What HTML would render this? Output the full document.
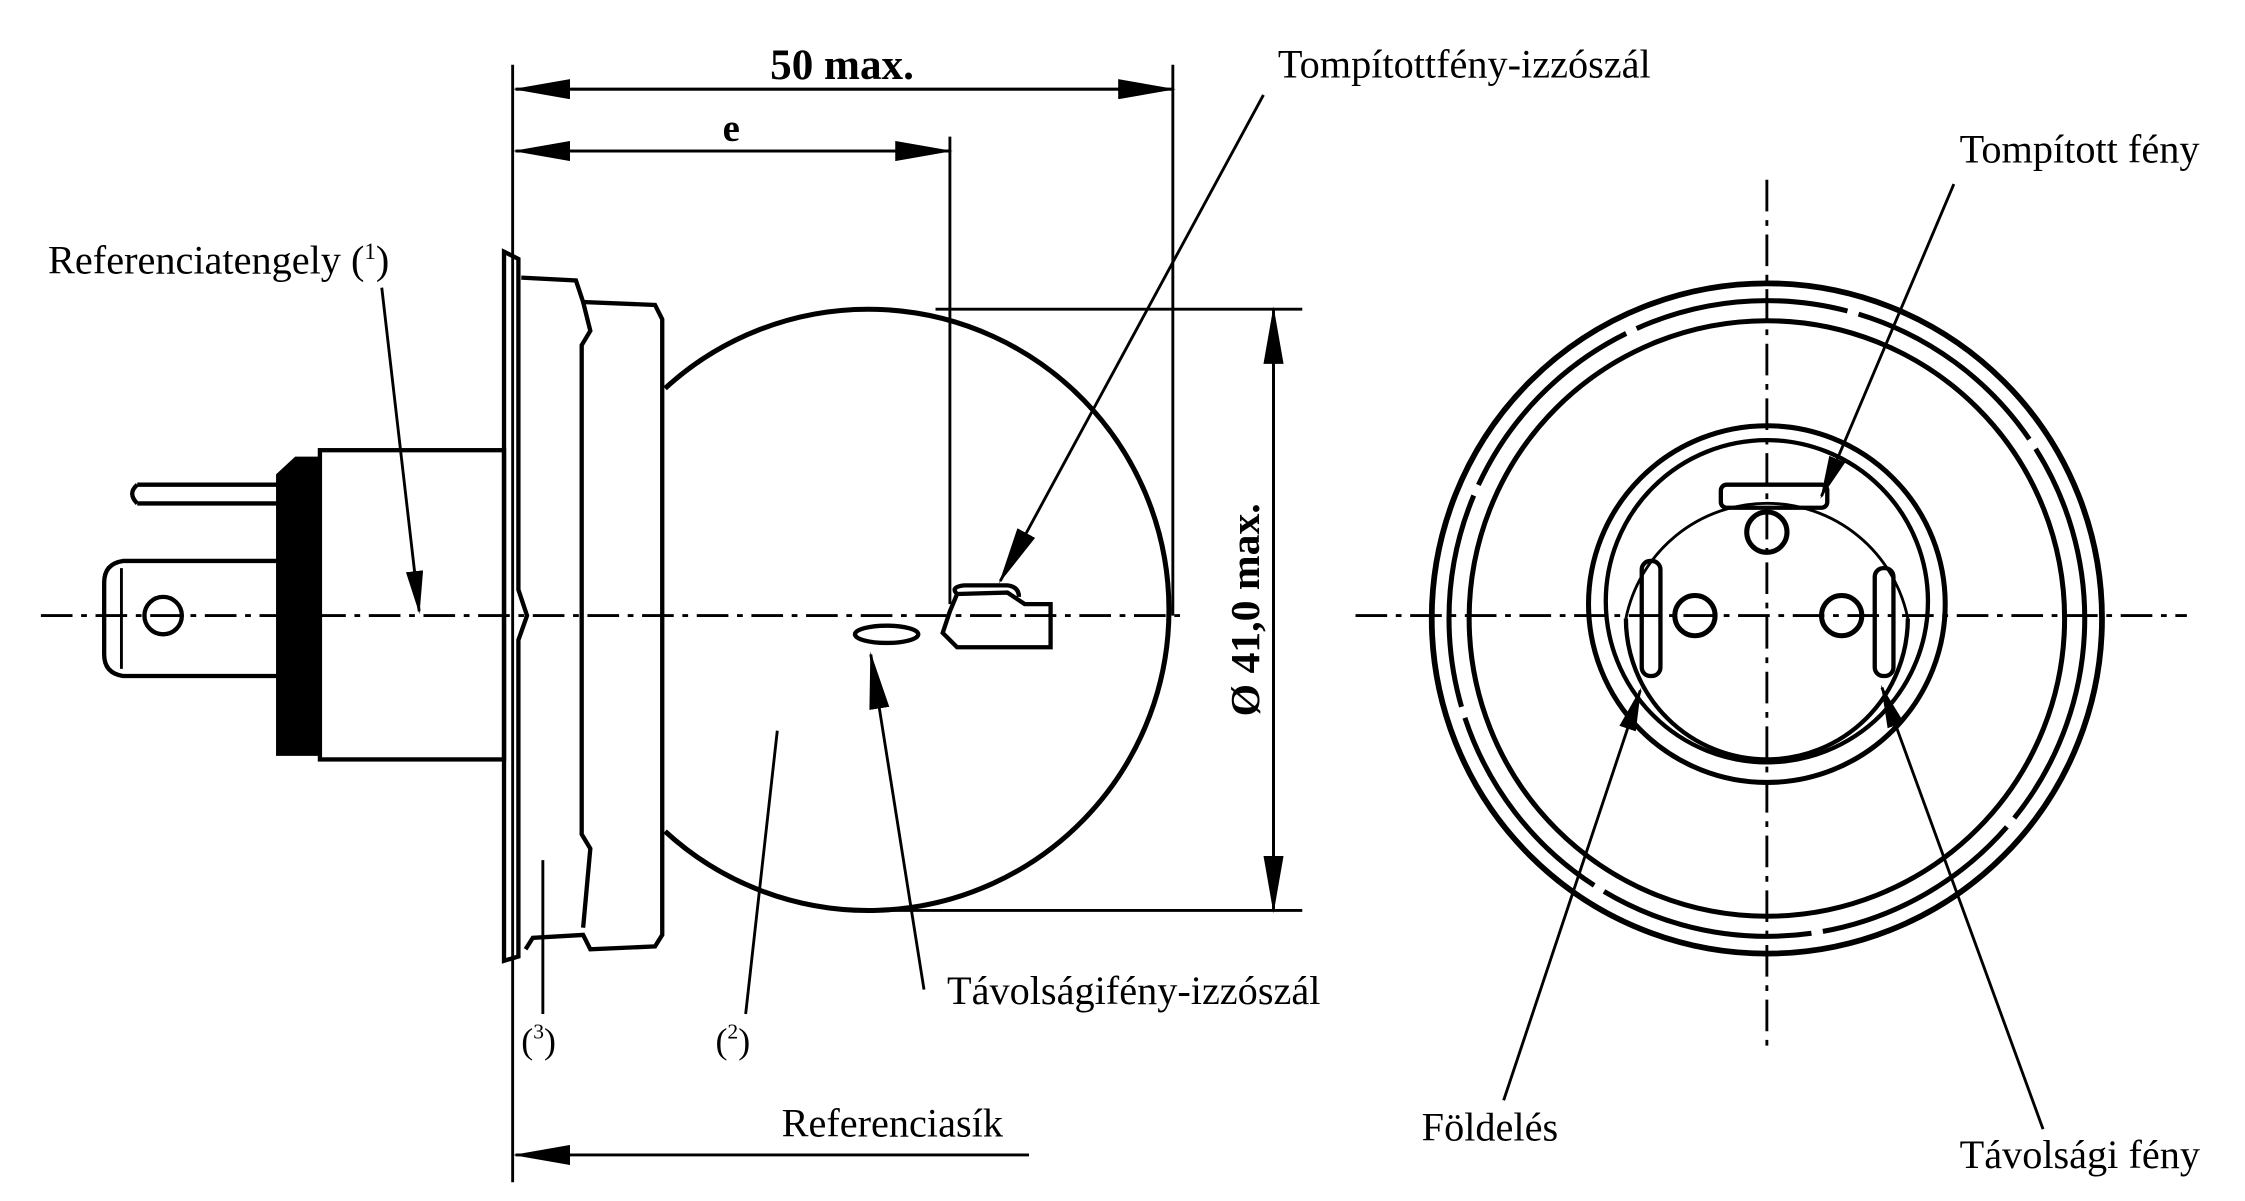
<!DOCTYPE html>
<html><head><meta charset="utf-8"><style>
html,body{margin:0;padding:0;background:#fff;}
svg{display:block;}
text{font-family:"Liberation Serif",serif;fill:#000;}
</style></head><body>
<svg width="2245" height="1201" viewBox="0 0 1560 835" xmlns="http://www.w3.org/2000/svg">
<defs>
<marker id="ar" markerWidth="40" markerHeight="14" refX="38" refY="7" orient="auto" markerUnits="userSpaceOnUse">
<path d="M0,0 L40,7 L0,14 Z" fill="#000"/></marker>
<marker id="ar2" markerWidth="30" markerHeight="12" refX="28" refY="6" orient="auto" markerUnits="userSpaceOnUse">
<path d="M0,0 L30,6 L0,12 Z" fill="#000"/></marker>
</defs>
<g stroke="#000" fill="none">
<line x1="28" y1="428" x2="820" y2="428" stroke-width="2" stroke-dasharray="22,6,4,6"/>
<line x1="942" y1="428" x2="1520" y2="428" stroke-width="2" stroke-dasharray="22,6,4,6"/>
<line x1="1228" y1="125" x2="1228" y2="732" stroke-width="2" stroke-dasharray="22,6,4,6"/>

<line x1="356" y1="45" x2="356" y2="822" stroke-width="2"/>
<line x1="815" y1="45" x2="815" y2="428" stroke-width="2"/>
<line x1="660" y1="95" x2="660" y2="420" stroke-width="2"/>
<line x1="358" y1="62" x2="815" y2="62" stroke-width="2" marker-end="url(#ar)"/>
<line x1="815" y1="62" x2="358" y2="62" stroke-width="2" marker-end="url(#ar)"/>
<line x1="358" y1="105" x2="660" y2="105" stroke-width="2" marker-end="url(#ar)"/>
<line x1="660" y1="105" x2="358" y2="105" stroke-width="2" marker-end="url(#ar)"/>
<line x1="650" y1="215" x2="905" y2="215" stroke-width="2"/>
<line x1="620" y1="633" x2="905" y2="633" stroke-width="2"/>
<line x1="885" y1="215" x2="885" y2="633" stroke-width="2" marker-end="url(#ar)"/>
<line x1="885" y1="633" x2="885" y2="215" stroke-width="2" marker-end="url(#ar)"/>
<line x1="715" y1="803" x2="358" y2="803" stroke-width="2" marker-end="url(#ar)"/>

<path d="M462,270 A209,209 0 1,1 462,578" stroke-width="3.5"/>
<path d="M350,175 L360,180 L360,410 L366,428 L360,445 L360,665 L350,668 Z" stroke-width="3"/>
<path d="M362,193 L400,195 L405,210 L455,212 L460,222 L460,650 L455,658 L410,660 L405,650 L370,652 L365,660" stroke-width="3"/>
<path d="M405,210 L410,230 L404,240 L404,580 L410,590 L405,645" stroke-width="3"/>
<rect x="222" y="313" width="128" height="215" stroke-width="3"/>
<path d="M192,330 L205,318 L222,318 L222,525 L192,525 Z" fill="#000"/>
<path d="M95,337 L192,337 M95,350 L192,350 M95,337 Q88,343 95,350" stroke-width="3"/>
<path d="M192,390 L85,390 Q72,392 72,405 L72,455 Q72,468 85,470 L192,470" stroke-width="3"/>
<line x1="84" y1="395" x2="84" y2="465" stroke-width="2"/>
<circle cx="113" cy="428" r="13" stroke-width="3"/>
<path d="M665,413 L700,412 L712,420 L730,420 L730,450 L665,450 L655,440 L660,425 Z" stroke-width="3"/>
<path d="M665,413 Q660,408 670,407 L700,407 Q708,408 708,415" stroke-width="3"/>
<ellipse cx="616" cy="441" rx="22" ry="6" stroke-width="3"/>

<line x1="265" y1="200" x2="291" y2="425" stroke-width="2" marker-end="url(#ar2)"/>
<line x1="878" y1="66" x2="695" y2="404" stroke-width="2" marker-end="url(#ar)"/>
<line x1="642" y1="688" x2="605" y2="455" stroke-width="2" marker-end="url(#ar)"/>
<line x1="518" y1="705" x2="540" y2="508" stroke-width="2"/>
<line x1="377" y1="705" x2="377" y2="598" stroke-width="2"/>

<circle cx="1228" cy="430" r="233" stroke-width="4"/>
<circle cx="1228" cy="430" r="221" stroke-width="3.5" stroke-dasharray="150,8"/>
<circle cx="1228" cy="430" r="207" stroke-width="3.5"/>
<circle cx="1228" cy="420" r="124" stroke-width="3.5"/>
<circle cx="1228" cy="418" r="112" stroke-width="3"/>
<path d="M1130,430 A98,98 0 0,0 1326,430" stroke-width="3"/>
<path d="M1130,430 A100,100 0 0,1 1326,430" stroke-width="2"/>
<circle cx="1228" cy="370" r="14" stroke-width="3.5"/>
<circle cx="1178" cy="428" r="14" stroke-width="3.5"/>
<circle cx="1280" cy="428" r="14" stroke-width="3.5"/>
<rect x="1196" y="337" width="74" height="16" rx="4" stroke-width="3"/>
<rect x="1141" y="390" width="13" height="80" rx="6" stroke-width="3"/>
<rect x="1303" y="395" width="13" height="75" rx="6" stroke-width="3"/>
<line x1="1358" y1="128" x2="1266" y2="345" stroke-width="2" marker-end="url(#ar2)"/>
<line x1="1045" y1="765" x2="1140" y2="480" stroke-width="2" marker-end="url(#ar2)"/>
<line x1="1420" y1="785" x2="1308" y2="478" stroke-width="2" marker-end="url(#ar2)"/>
</g>

<text x="585" y="55" font-size="30" font-weight="bold" text-anchor="middle">50 max.</text>
<text x="508" y="98" font-size="27" font-weight="bold" text-anchor="middle">e</text>
<text x="888" y="54" font-size="28">Tompítottfény-izzószál</text>
<text x="33" y="190" font-size="28">Referenciatengely (<tspan font-size="16" dy="-10">1</tspan><tspan dy="10">)</tspan></text>
<text x="658" y="698" font-size="28">Távolságifény-izzószál</text>
<text x="362" y="732" font-size="25">(<tspan font-size="15" dy="-10">3</tspan><tspan dy="10">)</tspan></text>
<text x="497" y="732" font-size="25">(<tspan font-size="15" dy="-10">2</tspan><tspan dy="10">)</tspan></text>
<text x="543" y="790" font-size="28">Referenciasík</text>
<text transform="translate(875,424) rotate(-90)" font-size="29" font-weight="bold" text-anchor="middle">Ø 41,0 max.</text>
<text x="1362" y="113" font-size="28">Tompított fény</text>
<text x="988" y="793" font-size="28">Földelés</text>
<text x="1362" y="812" font-size="28">Távolsági fény</text>
</svg>
</body></html>
